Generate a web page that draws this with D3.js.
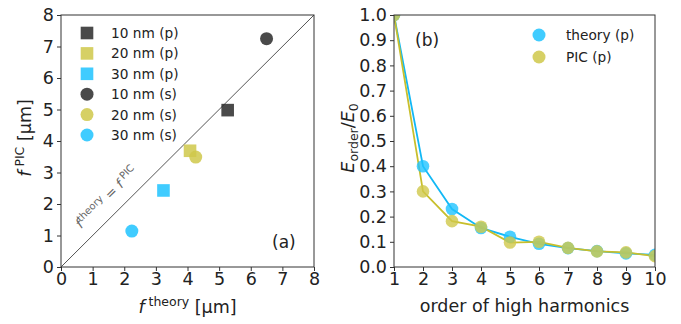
<!DOCTYPE html>
<html>
<head>
    <script src="https://cdn.jsdelivr.net/npm/d3@7"></script>
    <meta charset="utf-8">
    <style>
        body { margin: 0; background: #fff; }
        text { font-family: "DejaVu Sans", sans-serif; fill: #222; }
    </style>
</head>
<body>
    <script>
        // panel (a): focal lengths
        var seriesNames = ['10 nm (p)', '20 nm (p)', '30 nm (p)', '10 nm (s)', '20 nm (s)', '30 nm (s)'];
        var fTheory = [5.27, 4.08, 3.24, 6.5, 4.26, 2.24];
        var fPIC = [4.98, 3.69, 2.43, 7.25, 3.49, 1.14];
        var shapes = ['square', 'square', 'square', 'circle', 'circle', 'circle'];
        var colorKeys = ['dark', 'yellow', 'cyan', 'dark', 'yellow', 'cyan'];
        var axisTicksA = [0, 1, 2, 3, 4, 5, 6, 7, 8];

        // panel (b): harmonic orders
        var orders = [1, 2, 3, 4, 5, 6, 7, 8, 9, 10];
        var theoryP = [1.0, 0.40, 0.23, 0.155, 0.12, 0.092, 0.075, 0.063, 0.054, 0.048];
        var picP = [1.0, 0.30, 0.182, 0.16, 0.097, 0.10, 0.076, 0.062, 0.058, 0.043];
        var yTicksB = [0, 0.1, 0.2, 0.3, 0.4, 0.5, 0.6, 0.7, 0.8, 0.9, 1.0];

        var colors = { dark: '#2a2a2a', yellow: '#cfc84a', cyan: '#1fc3ff' };
        var lineColors = { cyan: '#12b8f5', yellow: '#c8bf2c' };

        var svg = d3.select('body').append('svg')
            .attr('width', 681).attr('height', 324);

        function frame(g, w, h) {
            g.append('rect').attr('width', w).attr('height', h)
                .attr('fill', 'none').attr('stroke', '#333').attr('stroke-width', 1);
        }
        function styleAxis(sel) {
            sel.selectAll('path').remove();
            sel.selectAll('line').attr('stroke', '#333');
            sel.selectAll('text').style('font-size', '17.5px').attr('fill', '#222');
        }

        // ---------- panel (a)
        var wA = 253, hA = 252;
        var gA = svg.append('g').attr('transform', 'translate(61,15)');
        var xA = d3.scaleLinear().domain([0, 8]).range([0, wA]);
        var yA = d3.scaleLinear().domain([0, 8]).range([hA, 0]);

        gA.append('g').attr('transform', 'translate(0,' + hA + ')')
            .call(d3.axisBottom(xA).tickValues(axisTicksA).tickSize(4).tickPadding(2))
            .call(styleAxis);
        gA.append('g')
            .call(d3.axisLeft(yA).tickValues(axisTicksA).tickSize(4).tickPadding(3))
            .call(styleAxis);

        gA.append('line')
            .attr('x1', xA(0)).attr('y1', yA(0)).attr('x2', xA(8)).attr('y2', yA(8))
            .attr('stroke', '#555').attr('stroke-width', 1);

        var diagLabel = gA.append('text')
            .attr('transform', 'translate(' + (xA(1.82) - 9) + ',' + (yA(1.82) - 9) + ') rotate(-45)')
            .attr('text-anchor', 'middle')
            .style('font-size', '13.5px').style('fill', '#666');
        diagLabel.append('tspan').text('f').style('font-style', 'italic');
        diagLabel.append('tspan').text('theory').attr('dy', -5).style('font-size', '10px');
        diagLabel.append('tspan').text(' = ').attr('dy', 5);
        diagLabel.append('tspan').text('f').style('font-style', 'italic');
        diagLabel.append('tspan').text(' PIC').attr('dy', -5).style('font-size', '10px');

        var ptsA = seriesNames.map(function (n, i) {
            return { name: n, x: fTheory[i], y: fPIC[i], shape: shapes[i], c: colors[colorKeys[i]] };
        });

        function drawMarker(sel, d, cx, cy) {
            if (d.shape === 'square') {
                sel.append('rect').attr('x', cx - 6.3).attr('y', cy - 6.3)
                    .attr('width', 12.6).attr('height', 12.6);
            } else {
                sel.append('circle').attr('cx', cx).attr('cy', cy).attr('r', 6.5);
            }
            sel.select(':last-child').attr('fill', d.c).attr('fill-opacity', 0.85);
        }

        gA.selectAll('g.pt').data(ptsA).enter().append('g').attr('class', 'pt')
            .each(function (d) { drawMarker(d3.select(this), d, xA(d.x), yA(d.y)); });

        var legA = gA.append('g').attr('transform', 'translate(26,18)');
        ptsA.forEach(function (d, i) {
            var row = legA.append('g');
            drawMarker(row, d, 0, i * 20.4);
            row.append('text').attr('x', 24).attr('y', i * 20.4 + 5)
                .style('font-size', '13.7px').text(d.name);
        });

        gA.append('text').attr('x', 211).attr('y', 233).style('font-size', '17px').text('(a)');

        var xlabA = svg.append('text').attr('x', 61 + wA / 2).attr('y', 313)
            .attr('text-anchor', 'middle').style('font-size', '17.5px');
        xlabA.append('tspan').text('f').style('font-style', 'italic');
        xlabA.append('tspan').text(' theory').attr('dy', -7).style('font-size', '12.5px');
        xlabA.append('tspan').text(' [μm]').attr('dy', 7);

        var ylabA = svg.append('text').attr('transform', 'translate(31,' + (12 + hA / 2) + ') rotate(-90)')
            .attr('text-anchor', 'middle').style('font-size', '17.5px');
        ylabA.append('tspan').text('f').style('font-style', 'italic');
        ylabA.append('tspan').text(' PIC').attr('dy', -7).style('font-size', '12.5px');
        ylabA.append('tspan').text(' [μm]').attr('dy', 7);

        frame(gA, wA, hA);

        // ---------- panel (b)
        var wB = 261, hB = 252;
        var gB = svg.append('g').attr('transform', 'translate(394,15)');
        var xB = d3.scaleLinear().domain([1, 10]).range([0, wB]);
        var yB = d3.scaleLinear().domain([0, 1]).range([hB, 0]);

        gB.append('g').attr('transform', 'translate(0,' + hB + ')')
            .call(d3.axisBottom(xB).tickValues(orders).tickSize(4).tickPadding(2))
            .call(styleAxis);
        gB.append('g')
            .call(d3.axisLeft(yB).tickValues(yTicksB).tickFormat(d3.format('.1f')).tickSize(4).tickPadding(3))
            .call(styleAxis);

        var seriesB = [
            { name: 'theory (p)', vals: theoryP, key: 'cyan' },
            { name: 'PIC (p)', vals: picP, key: 'yellow' }
        ];
        var line = d3.line().x(function (d, i) { return xB(orders[i]); }).y(function (d) { return yB(d); });

        svg.append('defs').append('clipPath').attr('id', 'clipB')
            .append('rect').attr('width', wB).attr('height', hB);

        var plotB = gB.append('g').attr('clip-path', 'url(#clipB)');
        seriesB.forEach(function (s) {
            plotB.append('path').datum(s.vals).attr('d', line)
                .attr('fill', 'none').attr('stroke', lineColors[s.key]).attr('stroke-width', 1.8);
        });
        seriesB.forEach(function (s) {
            plotB.selectAll(null).data(s.vals).enter().append('circle')
                .attr('cx', function (d, i) { return xB(orders[i]); })
                .attr('cy', function (d) { return yB(d); })
                .attr('r', 6.3).attr('fill', colors[s.key]).attr('fill-opacity', 0.8);
        });

        var legB = gB.append('g').attr('transform', 'translate(145,20)');
        seriesB.forEach(function (s, i) {
            legB.append('circle').attr('cx', 0).attr('cy', i * 22).attr('r', 6.5)
                .attr('fill', colors[s.key]).attr('fill-opacity', 0.85);
            legB.append('text').attr('x', 27).attr('y', i * 22 + 5)
                .style('font-size', '13.7px').text(s.name);
        });

        gB.append('text').attr('x', 21).attr('y', 31).style('font-size', '17px').text('(b)');

        svg.append('text').attr('x', 394 + wB / 2).attr('y', 312)
            .attr('text-anchor', 'middle').style('font-size', '17.5px').text('order of high harmonics');

        var ylabB = svg.append('text').attr('transform', 'translate(354,' + (12 + hB / 2) + ') rotate(-90)')
            .attr('text-anchor', 'middle').style('font-size', '17.5px');
        ylabB.append('tspan').text('E').style('font-style', 'italic');
        ylabB.append('tspan').text('order').attr('dy', 4).style('font-size', '12.5px');
        ylabB.append('tspan').text('/').attr('dy', -4);
        ylabB.append('tspan').text('E').style('font-style', 'italic');
        ylabB.append('tspan').text('0').attr('dy', 4).style('font-size', '12.5px');

        frame(gB, wB, hB);
    </script>
</body>
</html>
